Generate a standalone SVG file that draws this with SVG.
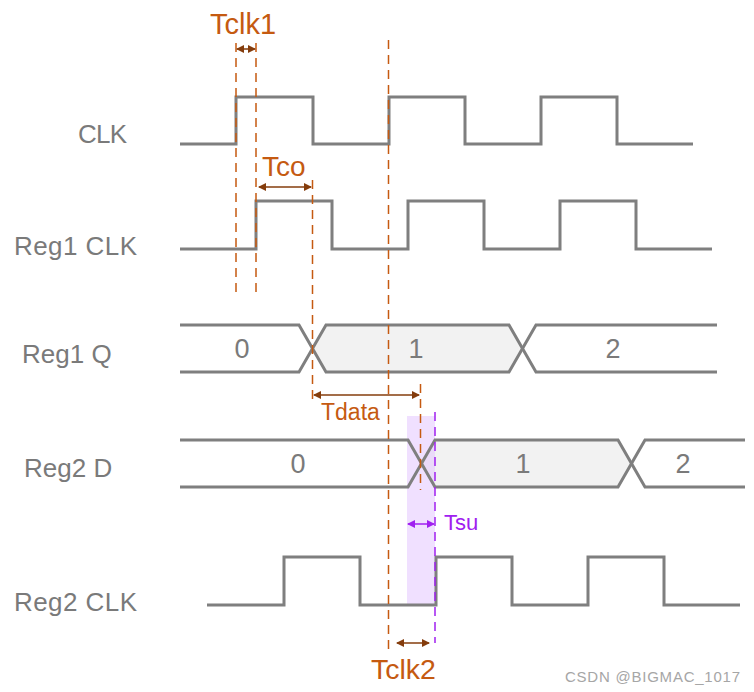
<svg xmlns="http://www.w3.org/2000/svg" width="754" height="692" viewBox="0 0 754 692">
<style>
.wave{fill:none;stroke:#7f7f7f;stroke-width:3;stroke-linejoin:miter}
.lbl{font-family:"Liberation Sans",Arial,sans-serif;font-size:26px;fill:#7a7a7a}
.val{font-family:"Liberation Sans",Arial,sans-serif;font-size:27px;fill:#7a7a7a;text-anchor:middle}
.odash{stroke:#c55a11;stroke-width:1.5;stroke-dasharray:9,6;fill:none}
.pdash{stroke:#a020f0;stroke-width:1.5;stroke-dasharray:9,6;fill:none}
.oarr{stroke:#843c0c;stroke-width:1.5;fill:none;marker-start:url(#ob);marker-end:url(#oe)}
.parr{stroke:#a020f0;stroke-width:1.5;fill:none;marker-start:url(#pb);marker-end:url(#pe)}
.otxt{font-family:"Liberation Sans",Arial,sans-serif;fill:#c55a11}
.ptxt{font-family:"Liberation Sans",Arial,sans-serif;fill:#a020f0}
</style>
<defs>
<marker id="oe" markerWidth="8" markerHeight="8" refX="7" refY="4" orient="auto" markerUnits="userSpaceOnUse"><path d="M0,0 L8,4 L0,8 Z" fill="#843c0c"/></marker>
<marker id="ob" markerWidth="8" markerHeight="8" refX="1" refY="4" orient="auto" markerUnits="userSpaceOnUse"><path d="M8,0 L0,4 L8,8 Z" fill="#843c0c"/></marker>
<marker id="pe" markerWidth="8" markerHeight="8" refX="7" refY="4" orient="auto" markerUnits="userSpaceOnUse"><path d="M0,0 L8,4 L0,8 Z" fill="#a020f0"/></marker>
<marker id="pb" markerWidth="8" markerHeight="8" refX="1" refY="4" orient="auto" markerUnits="userSpaceOnUse"><path d="M8,0 L0,4 L8,8 Z" fill="#a020f0"/></marker>
</defs>
<rect width="754" height="692" fill="#ffffff"/>

<g id="labels">
<text class="lbl" x="78" y="143" textLength="49">CLK</text>
<text class="lbl" x="14" y="255" textLength="123">Reg1 CLK</text>
<text class="lbl" x="22" y="363" font-size="27">Reg1 Q</text>
<text class="lbl" x="24" y="477" font-size="27">Reg2 D</text>
<text class="lbl" x="14" y="611" textLength="123">Reg2 CLK</text>
</g>

<g id="fills">
<polygon points="326,325 509,325 522.5,348.5 509,372 326,372 312.5,348.5" fill="#f2f2f2"/>
<polygon points="435,440 618,440 631.5,463.5 618,487 435,487 421.5,463.5" fill="#f2f2f2"/>
</g>

<g id="tsu-window">
<rect x="407" y="416" width="28" height="189" fill="#e3c6ff" fill-opacity="0.55"/>
</g>

<g id="clk">
<path class="wave" d="M180,144 H236 V97 H313 V144 H389 V97 H465 V144 H541 V97 H617 V144 H693"/>
</g>
<g id="reg1clk">
<path class="wave" d="M180,249 H256 V201 H332 V249 H408 V201 H484 V249 H560 V201 H636 V249 H712"/>
</g>
<g id="reg1q">
<path class="wave" d="M180,325 H299 L326,372 H509 L536,325 H717"/>
<path class="wave" d="M180,372 H299 L326,325 H509 L536,372 H717"/>
<text class="val" x="242" y="358">0</text>
<text class="val" x="416" y="358">1</text>
<text class="val" x="613" y="358">2</text>
</g>
<g id="reg2d">
<path class="wave" d="M180,440 H408 L435,487 H618 L645,440 H745"/>
<path class="wave" d="M180,487 H408 L435,440 H618 L645,487 H745"/>
<text class="val" x="298" y="473">0</text>
<text class="val" x="523" y="473">1</text>
<text class="val" x="683" y="473">2</text>
</g>
<g id="reg2clk">
<path class="wave" d="M207,605 H284 V557 H360 V605 H436 V557 H512 V605 H588 V557 H664 V605 H740"/>
</g>

<g id="connectors">
<line class="odash" x1="236" y1="43" x2="236" y2="296"/>
<line class="odash" x1="256" y1="43" x2="256" y2="296"/>
<line class="odash" x1="312.5" y1="180" x2="312.5" y2="400"/>
<line class="odash" x1="388.5" y1="40" x2="388.5" y2="650"/>
<line class="odash" x1="420.5" y1="384" x2="420.5" y2="490"/>
<line class="pdash" x1="435" y1="412" x2="435" y2="643"/>
<line class="oarr" x1="237" y1="49" x2="255" y2="49"/>
<line class="oarr" x1="259" y1="187" x2="311" y2="187"/>
<line class="oarr" x1="314" y1="395" x2="419" y2="395"/>
<line class="parr" x1="408" y1="524" x2="434" y2="524"/>
<line class="oarr" x1="397" y1="643" x2="429" y2="643"/>
</g>

<g id="annotations">
<text class="otxt" x="210" y="34" font-size="29">Tclk1</text>
<text class="otxt" x="262" y="176" font-size="28">Tco</text>
<text class="otxt" x="321" y="420" font-size="23">Tdata</text>
<text class="ptxt" x="444" y="530" font-size="22">Tsu</text>
<text class="otxt" x="371" y="679" font-size="28.5">Tclk2</text>
<text x="565" y="682" font-family="'Liberation Sans',Arial,sans-serif" font-size="15" fill="#a6a6a6" textLength="175">CSDN @BIGMAC_1017</text>
</g>
</svg>
